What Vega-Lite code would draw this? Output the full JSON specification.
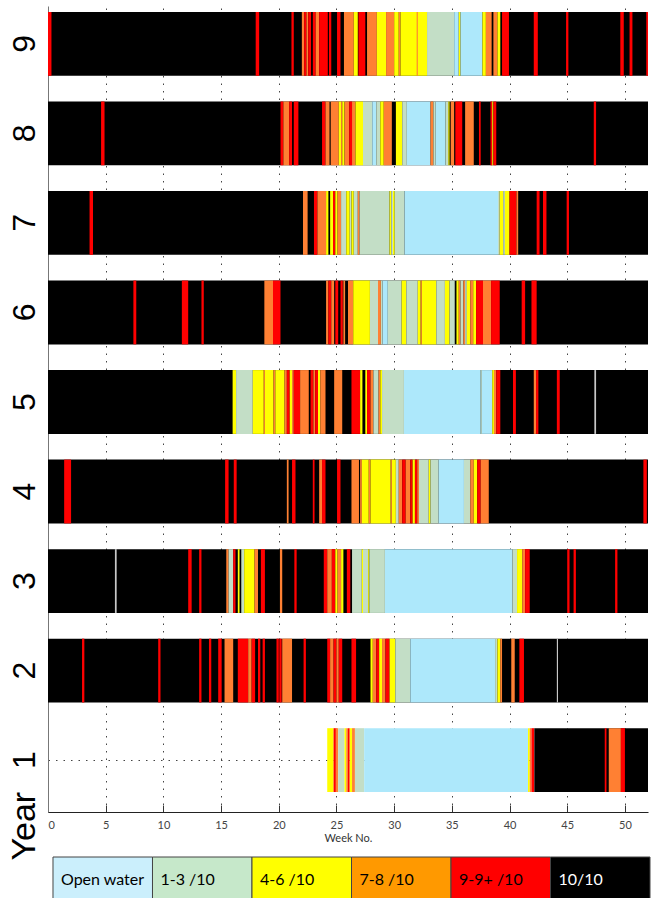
{
 "$schema": "https://vega.github.io/schema/vega-lite/v6.json",
 "padding": {"left": 7, "top": 6, "right": 0, "bottom": 0},
 "background": "white",
 "config": {"view": {"stroke": null}, "font": "Lato"},
 "spacing": 45,
 "bounds": "flush",
 "resolve": {"scale": {"color": "independent", "x": "independent", "y": "independent"}},
 "vconcat": [
  {
   "width": 600,
   "height": 806,
   "data": {"values": [
    {"year":9,"start":0,"end":52,"ice":"10"},
    {"year":9,"start":0,"end":0.3,"ice":"9"},
    {"year":9,"start":18.0,"end":18.3,"ice":"9"},
    {"year":9,"start":21.1,"end":21.3,"ice":"9"},
    {"year":9,"start":22.0,"end":22.2,"ice":"7-8"},
    {"year":9,"start":22.2,"end":22.4,"ice":"9"},
    {"year":9,"start":22.4,"end":22.55,"ice":"7-8"},
    {"year":9,"start":22.55,"end":22.8,"ice":"9"},
    {"year":9,"start":22.95,"end":23.2,"ice":"9"},
    {"year":9,"start":23.2,"end":23.5,"ice":"7-8"},
    {"year":9,"start":23.5,"end":24.25,"ice":"9"},
    {"year":9,"start":24.35,"end":24.55,"ice":"9"},
    {"year":9,"start":25.05,"end":25.35,"ice":"9"},
    {"year":9,"start":25.65,"end":26.5,"ice":"7-8"},
    {"year":9,"start":26.5,"end":26.85,"ice":"4-6"},
    {"year":9,"start":26.9,"end":27.5,"ice":"9"},
    {"year":9,"start":27.65,"end":28.5,"ice":"7-8"},
    {"year":9,"start":28.5,"end":29.3,"ice":"4-6"},
    {"year":9,"start":29.3,"end":30.0,"ice":"7-8"},
    {"year":9,"start":30.0,"end":30.4,"ice":"4-6"},
    {"year":9,"start":30.4,"end":30.55,"ice":"7-8"},
    {"year":9,"start":30.55,"end":32.85,"ice":"4-6"},
    {"year":9,"start":31.95,"end":32.05,"ice":"7-8"},
    {"year":9,"start":32.85,"end":35.2,"ice":"1-3"},
    {"year":9,"start":35.2,"end":35.6,"ice":"OW"},
    {"year":9,"start":35.6,"end":35.75,"ice":"4-6"},
    {"year":9,"start":35.75,"end":37.65,"ice":"OW"},
    {"year":9,"start":37.65,"end":37.95,"ice":"4-6"},
    {"year":9,"start":37.95,"end":38.45,"ice":"7-8"},
    {"year":9,"start":38.6,"end":38.95,"ice":"7-8"},
    {"year":9,"start":38.95,"end":39.2,"ice":"4-6"},
    {"year":9,"start":39.35,"end":39.95,"ice":"9"},
    {"year":9,"start":42.1,"end":42.45,"ice":"9"},
    {"year":9,"start":44.9,"end":45.1,"ice":"9"},
    {"year":9,"start":49.6,"end":49.9,"ice":"9"},
    {"year":9,"start":50.4,"end":50.65,"ice":"9"},
    {"year":9,"start":51.85,"end":52,"ice":"9"},

    {"year":8,"start":0,"end":52,"ice":"10"},
    {"year":8,"start":4.6,"end":4.9,"ice":"9"},
    {"year":8,"start":20.15,"end":20.4,"ice":"9"},
    {"year":8,"start":20.4,"end":20.9,"ice":"7-8"},
    {"year":8,"start":20.9,"end":21.15,"ice":"9"},
    {"year":8,"start":21.3,"end":21.7,"ice":"9"},
    {"year":8,"start":23.75,"end":24.05,"ice":"9"},
    {"year":8,"start":24.05,"end":24.4,"ice":"7-8"},
    {"year":8,"start":24.5,"end":25.2,"ice":"7-8"},
    {"year":8,"start":25.2,"end":25.4,"ice":"4-6"},
    {"year":8,"start":25.4,"end":25.5,"ice":"7-8"},
    {"year":8,"start":25.5,"end":25.7,"ice":"4-6"},
    {"year":8,"start":25.7,"end":26.1,"ice":"7-8"},
    {"year":8,"start":26.1,"end":26.35,"ice":"9"},
    {"year":8,"start":26.35,"end":26.65,"ice":"7-8"},
    {"year":8,"start":26.65,"end":27.3,"ice":"4-6"},
    {"year":8,"start":27.3,"end":28.1,"ice":"1-3"},
    {"year":8,"start":28.1,"end":28.45,"ice":"OW"},
    {"year":8,"start":28.45,"end":28.8,"ice":"1-3"},
    {"year":8,"start":28.8,"end":29.1,"ice":"4-6"},
    {"year":8,"start":29.1,"end":29.8,"ice":"7-8"},
    {"year":8,"start":30.15,"end":30.7,"ice":"4-6"},
    {"year":8,"start":30.7,"end":31.1,"ice":"1-3"},
    {"year":8,"start":31.1,"end":33.15,"ice":"OW"},
    {"year":8,"start":33.15,"end":33.4,"ice":"7-8"},
    {"year":8,"start":33.4,"end":33.6,"ice":"1-3"},
    {"year":8,"start":33.6,"end":34.45,"ice":"OW"},
    {"year":8,"start":34.45,"end":34.7,"ice":"1-3"},
    {"year":8,"start":34.7,"end":34.8,"ice":"4-6"},
    {"year":8,"start":34.9,"end":35.2,"ice":"7-8"},
    {"year":8,"start":35.3,"end":35.9,"ice":"9"},
    {"year":8,"start":36.15,"end":36.9,"ice":"7-8"},
    {"year":8,"start":37.35,"end":37.5,"ice":"9"},
    {"year":8,"start":38.35,"end":38.5,"ice":"9"},
    {"year":8,"start":38.5,"end":38.6,"ice":"4-6"},
    {"year":8,"start":38.6,"end":38.85,"ice":"9"},
    {"year":8,"start":47.3,"end":47.5,"ice":"9"},

    {"year":7,"start":0,"end":52,"ice":"10"},
    {"year":7,"start":3.6,"end":3.9,"ice":"9"},
    {"year":7,"start":22.1,"end":22.5,"ice":"7-8"},
    {"year":7,"start":23.05,"end":23.35,"ice":"9"},
    {"year":7,"start":23.35,"end":24.1,"ice":"7-8"},
    {"year":7,"start":24.1,"end":24.3,"ice":"4-6"},
    {"year":7,"start":24.45,"end":24.7,"ice":"4-6"},
    {"year":7,"start":24.7,"end":24.9,"ice":"9"},
    {"year":7,"start":24.9,"end":25.1,"ice":"4-6"},
    {"year":7,"start":25.1,"end":25.4,"ice":"7-8"},
    {"year":7,"start":25.4,"end":25.85,"ice":"1-3"},
    {"year":7,"start":25.85,"end":26.15,"ice":"4-6"},
    {"year":7,"start":26.15,"end":26.3,"ice":"1-3"},
    {"year":7,"start":26.3,"end":26.5,"ice":"4-6"},
    {"year":7,"start":26.5,"end":26.85,"ice":"1-3"},
    {"year":7,"start":26.85,"end":27.0,"ice":"7-8"},
    {"year":7,"start":27.0,"end":29.6,"ice":"1-3"},
    {"year":7,"start":29.6,"end":29.75,"ice":"4-6"},
    {"year":7,"start":29.75,"end":29.9,"ice":"1-3"},
    {"year":7,"start":29.9,"end":30.05,"ice":"4-6"},
    {"year":7,"start":30.05,"end":30.9,"ice":"1-3"},
    {"year":7,"start":30.9,"end":39.0,"ice":"OW"},
    {"year":7,"start":39.0,"end":39.15,"ice":"1-3"},
    {"year":7,"start":39.15,"end":39.45,"ice":"4-6"},
    {"year":7,"start":39.45,"end":39.6,"ice":"1-3"},
    {"year":7,"start":39.6,"end":40.0,"ice":"4-6"},
    {"year":7,"start":40.0,"end":40.6,"ice":"9"},
    {"year":7,"start":40.6,"end":40.75,"ice":"7-8"},
    {"year":7,"start":42.35,"end":42.6,"ice":"9"},
    {"year":7,"start":42.9,"end":43.2,"ice":"9"},
    {"year":7,"start":44.95,"end":45.15,"ice":"9"},

    {"year":6,"start":0,"end":52,"ice":"10"},
    {"year":6,"start":7.4,"end":7.65,"ice":"9"},
    {"year":6,"start":11.6,"end":12.15,"ice":"9"},
    {"year":6,"start":13.3,"end":13.5,"ice":"9"},
    {"year":6,"start":18.75,"end":19.5,"ice":"7-8"},
    {"year":6,"start":19.5,"end":20.15,"ice":"9"},
    {"year":6,"start":24.1,"end":24.3,"ice":"7-8"},
    {"year":6,"start":24.3,"end":24.55,"ice":"9"},
    {"year":6,"start":24.55,"end":24.8,"ice":"7-8"},
    {"year":6,"start":24.9,"end":25.15,"ice":"9"},
    {"year":6,"start":25.35,"end":25.55,"ice":"9"},
    {"year":6,"start":25.6,"end":25.75,"ice":"7-8"},
    {"year":6,"start":26.0,"end":26.45,"ice":"7-8"},
    {"year":6,"start":26.45,"end":27.9,"ice":"4-6"},
    {"year":6,"start":27.9,"end":28.6,"ice":"1-3"},
    {"year":6,"start":28.6,"end":28.85,"ice":"7-8"},
    {"year":6,"start":28.85,"end":29.0,"ice":"1-3"},
    {"year":6,"start":29.0,"end":29.45,"ice":"OW"},
    {"year":6,"start":29.45,"end":30.65,"ice":"1-3"},
    {"year":6,"start":30.65,"end":31.05,"ice":"4-6"},
    {"year":6,"start":31.05,"end":32.05,"ice":"1-3"},
    {"year":6,"start":32.05,"end":32.3,"ice":"4-6"},
    {"year":6,"start":32.3,"end":32.4,"ice":"7-8"},
    {"year":6,"start":32.4,"end":33.65,"ice":"4-6"},
    {"year":6,"start":33.65,"end":34.4,"ice":"1-3"},
    {"year":6,"start":34.4,"end":34.8,"ice":"4-6"},
    {"year":6,"start":34.8,"end":35.25,"ice":"1-3"},
    {"year":6,"start":35.4,"end":35.6,"ice":"4-6"},
    {"year":6,"start":35.6,"end":35.75,"ice":"7-8"},
    {"year":6,"start":35.75,"end":36.0,"ice":"1-3"},
    {"year":6,"start":36.0,"end":36.15,"ice":"7-8"},
    {"year":6,"start":36.15,"end":36.3,"ice":"1-3"},
    {"year":6,"start":36.3,"end":36.6,"ice":"4-6"},
    {"year":6,"start":36.6,"end":36.85,"ice":"7-8"},
    {"year":6,"start":36.85,"end":37.1,"ice":"4-6"},
    {"year":6,"start":37.1,"end":37.7,"ice":"9"},
    {"year":6,"start":37.7,"end":38.4,"ice":"7-8"},
    {"year":6,"start":38.4,"end":39.15,"ice":"9"},
    {"year":6,"start":41.05,"end":41.35,"ice":"9"},
    {"year":6,"start":41.9,"end":42.35,"ice":"9"},

    {"year":5,"start":0,"end":52,"ice":"10"},
    {"year":5,"start":16.0,"end":16.3,"ice":"4-6"},
    {"year":5,"start":16.3,"end":17.75,"ice":"1-3"},
    {"year":5,"start":17.75,"end":18.7,"ice":"4-6"},
    {"year":5,"start":18.7,"end":18.8,"ice":"7-8"},
    {"year":5,"start":18.8,"end":19.55,"ice":"4-6"},
    {"year":5,"start":19.55,"end":19.7,"ice":"7-8"},
    {"year":5,"start":19.7,"end":20.5,"ice":"4-6"},
    {"year":5,"start":20.5,"end":20.7,"ice":"7-8"},
    {"year":5,"start":20.7,"end":20.95,"ice":"9"},
    {"year":5,"start":20.95,"end":21.15,"ice":"4-6"},
    {"year":5,"start":21.15,"end":21.3,"ice":"7-8"},
    {"year":5,"start":21.3,"end":21.85,"ice":"9"},
    {"year":5,"start":21.85,"end":22.6,"ice":"7-8"},
    {"year":5,"start":22.75,"end":23.0,"ice":"9"},
    {"year":5,"start":23.0,"end":23.15,"ice":"7-8"},
    {"year":5,"start":23.15,"end":23.4,"ice":"9"},
    {"year":5,"start":23.4,"end":23.6,"ice":"4-6"},
    {"year":5,"start":23.6,"end":24.05,"ice":"7-8"},
    {"year":5,"start":24.8,"end":25.5,"ice":"7-8"},
    {"year":5,"start":26.3,"end":27.05,"ice":"9"},
    {"year":5,"start":27.05,"end":27.25,"ice":"4-6"},
    {"year":5,"start":27.5,"end":27.65,"ice":"4-6"},
    {"year":5,"start":27.65,"end":27.95,"ice":"9"},
    {"year":5,"start":27.95,"end":28.2,"ice":"7-8"},
    {"year":5,"start":28.2,"end":28.65,"ice":"1-3"},
    {"year":5,"start":28.65,"end":28.8,"ice":"7-8"},
    {"year":5,"start":28.8,"end":28.95,"ice":"4-6"},
    {"year":5,"start":28.95,"end":30.85,"ice":"1-3"},
    {"year":5,"start":30.85,"end":37.5,"ice":"OW"},
    {"year":5,"start":37.5,"end":37.6,"ice":"1-3"},
    {"year":5,"start":37.6,"end":38.5,"ice":"OW"},
    {"year":5,"start":38.5,"end":38.65,"ice":"4-6"},
    {"year":5,"start":38.65,"end":38.85,"ice":"7-8"},
    {"year":5,"start":38.85,"end":39.2,"ice":"9"},
    {"year":5,"start":40.3,"end":40.55,"ice":"9"},
    {"year":5,"start":42.1,"end":42.3,"ice":"7-8"},
    {"year":5,"start":42.3,"end":42.5,"ice":"9"},
    {"year":5,"start":44.1,"end":44.35,"ice":"9"},
    {"year":5,"start":47.35,"end":47.5,"ice":"X"},

    {"year":4,"start":0,"end":52,"ice":"10"},
    {"year":4,"start":1.4,"end":2.0,"ice":"9"},
    {"year":4,"start":15.35,"end":15.65,"ice":"9"},
    {"year":4,"start":16.1,"end":16.35,"ice":"9"},
    {"year":4,"start":20.7,"end":20.85,"ice":"7-8"},
    {"year":4,"start":21.15,"end":21.45,"ice":"9"},
    {"year":4,"start":22.95,"end":23.1,"ice":"9"},
    {"year":4,"start":23.5,"end":23.75,"ice":"7-8"},
    {"year":4,"start":23.75,"end":24.05,"ice":"9"},
    {"year":4,"start":25.05,"end":25.35,"ice":"9"},
    {"year":4,"start":26.3,"end":26.95,"ice":"7-8"},
    {"year":4,"start":27.05,"end":27.2,"ice":"7-8"},
    {"year":4,"start":27.2,"end":27.8,"ice":"4-6"},
    {"year":4,"start":27.8,"end":27.95,"ice":"7-8"},
    {"year":4,"start":27.95,"end":29.7,"ice":"4-6"},
    {"year":4,"start":29.7,"end":29.8,"ice":"7-8"},
    {"year":4,"start":29.8,"end":30.15,"ice":"4-6"},
    {"year":4,"start":30.15,"end":30.4,"ice":"1-3"},
    {"year":4,"start":30.4,"end":30.7,"ice":"7-8"},
    {"year":4,"start":30.7,"end":31.0,"ice":"9"},
    {"year":4,"start":31.0,"end":31.4,"ice":"7-8"},
    {"year":4,"start":31.4,"end":31.6,"ice":"9"},
    {"year":4,"start":31.6,"end":31.8,"ice":"4-6"},
    {"year":4,"start":31.8,"end":32.0,"ice":"9"},
    {"year":4,"start":32.0,"end":32.15,"ice":"7-8"},
    {"year":4,"start":32.15,"end":33.0,"ice":"1-3"},
    {"year":4,"start":33.0,"end":33.15,"ice":"4-6"},
    {"year":4,"start":33.15,"end":33.85,"ice":"1-3"},
    {"year":4,"start":33.85,"end":36.05,"ice":"OW"},
    {"year":4,"start":36.05,"end":36.6,"ice":"1-3"},
    {"year":4,"start":36.6,"end":36.9,"ice":"7-8"},
    {"year":4,"start":36.9,"end":37.2,"ice":"4-6"},
    {"year":4,"start":37.2,"end":37.5,"ice":"9"},
    {"year":4,"start":37.5,"end":38.2,"ice":"7-8"},
    {"year":4,"start":51.6,"end":51.9,"ice":"9"},

    {"year":3,"start":0,"end":52,"ice":"10"},
    {"year":3,"start":5.8,"end":5.95,"ice":"X"},
    {"year":3,"start":12.15,"end":12.45,"ice":"9"},
    {"year":3,"start":13.1,"end":13.3,"ice":"9"},
    {"year":3,"start":15.45,"end":15.65,"ice":"7-8"},
    {"year":3,"start":15.65,"end":16.05,"ice":"1-3"},
    {"year":3,"start":16.05,"end":16.25,"ice":"9"},
    {"year":3,"start":16.45,"end":16.6,"ice":"4-6"},
    {"year":3,"start":16.75,"end":17.0,"ice":"1-3"},
    {"year":3,"start":17.0,"end":17.9,"ice":"4-6"},
    {"year":3,"start":17.9,"end":18.2,"ice":"7-8"},
    {"year":3,"start":18.45,"end":18.8,"ice":"9"},
    {"year":3,"start":20.1,"end":20.3,"ice":"7-8"},
    {"year":3,"start":21.35,"end":21.55,"ice":"9"},
    {"year":3,"start":23.9,"end":24.2,"ice":"9"},
    {"year":3,"start":24.2,"end":24.6,"ice":"7-8"},
    {"year":3,"start":24.6,"end":24.9,"ice":"9"},
    {"year":3,"start":24.9,"end":25.1,"ice":"4-6"},
    {"year":3,"start":25.1,"end":25.4,"ice":"7-8"},
    {"year":3,"start":25.4,"end":25.6,"ice":"4-6"},
    {"year":3,"start":25.9,"end":26.2,"ice":"9"},
    {"year":3,"start":26.35,"end":27.2,"ice":"1-3"},
    {"year":3,"start":27.2,"end":27.3,"ice":"4-6"},
    {"year":3,"start":27.3,"end":27.75,"ice":"1-3"},
    {"year":3,"start":27.75,"end":27.85,"ice":"4-6"},
    {"year":3,"start":27.85,"end":29.2,"ice":"1-3"},
    {"year":3,"start":29.2,"end":40.25,"ice":"OW"},
    {"year":3,"start":40.25,"end":40.65,"ice":"1-3"},
    {"year":3,"start":40.65,"end":41.1,"ice":"4-6"},
    {"year":3,"start":41.1,"end":41.35,"ice":"7-8"},
    {"year":3,"start":41.35,"end":41.75,"ice":"9"},
    {"year":3,"start":45.0,"end":45.2,"ice":"9"},
    {"year":3,"start":45.55,"end":45.75,"ice":"9"},
    {"year":3,"start":49.15,"end":49.35,"ice":"9"},

    {"year":2,"start":0,"end":52,"ice":"10"},
    {"year":2,"start":2.95,"end":3.15,"ice":"9"},
    {"year":2,"start":9.55,"end":9.75,"ice":"9"},
    {"year":2,"start":13.1,"end":13.3,"ice":"9"},
    {"year":2,"start":13.95,"end":14.15,"ice":"9"},
    {"year":2,"start":14.75,"end":15.05,"ice":"9"},
    {"year":2,"start":15.3,"end":16.05,"ice":"7-8"},
    {"year":2,"start":16.45,"end":17.35,"ice":"9"},
    {"year":2,"start":17.35,"end":17.65,"ice":"7-8"},
    {"year":2,"start":17.65,"end":17.95,"ice":"9"},
    {"year":2,"start":18.2,"end":18.4,"ice":"9"},
    {"year":2,"start":18.6,"end":18.8,"ice":"9"},
    {"year":2,"start":19.8,"end":20.0,"ice":"9"},
    {"year":2,"start":20.05,"end":20.25,"ice":"9"},
    {"year":2,"start":20.3,"end":21.15,"ice":"7-8"},
    {"year":2,"start":22.15,"end":22.35,"ice":"9"},
    {"year":2,"start":24.2,"end":24.45,"ice":"9"},
    {"year":2,"start":24.45,"end":24.75,"ice":"7-8"},
    {"year":2,"start":24.75,"end":25.0,"ice":"9"},
    {"year":2,"start":25.0,"end":25.2,"ice":"7-8"},
    {"year":2,"start":25.2,"end":25.5,"ice":"9"},
    {"year":2,"start":26.3,"end":26.7,"ice":"9"},
    {"year":2,"start":27.95,"end":28.15,"ice":"4-6"},
    {"year":2,"start":28.15,"end":28.45,"ice":"7-8"},
    {"year":2,"start":28.45,"end":28.7,"ice":"9"},
    {"year":2,"start":28.7,"end":28.95,"ice":"4-6"},
    {"year":2,"start":28.95,"end":29.25,"ice":"7-8"},
    {"year":2,"start":29.25,"end":29.6,"ice":"9"},
    {"year":2,"start":29.6,"end":30.1,"ice":"4-6"},
    {"year":2,"start":30.1,"end":31.4,"ice":"1-3"},
    {"year":2,"start":31.4,"end":38.75,"ice":"OW"},
    {"year":2,"start":38.75,"end":38.95,"ice":"1-3"},
    {"year":2,"start":38.95,"end":39.2,"ice":"4-6"},
    {"year":2,"start":39.2,"end":39.35,"ice":"7-8"},
    {"year":2,"start":40.15,"end":40.45,"ice":"7-8"},
    {"year":2,"start":40.85,"end":41.25,"ice":"9"},
    {"year":2,"start":44.1,"end":44.2,"ice":"X"},

    {"year":1,"start":24.2,"end":24.75,"ice":"4-6"},
    {"year":1,"start":24.75,"end":24.95,"ice":"9"},
    {"year":1,"start":24.95,"end":25.15,"ice":"7-8"},
    {"year":1,"start":25.15,"end":25.7,"ice":"1-3"},
    {"year":1,"start":25.7,"end":25.85,"ice":"4-6"},
    {"year":1,"start":25.85,"end":26.0,"ice":"7-8"},
    {"year":1,"start":26.0,"end":26.15,"ice":"9"},
    {"year":1,"start":26.15,"end":26.35,"ice":"4-6"},
    {"year":1,"start":26.35,"end":26.6,"ice":"7-8"},
    {"year":1,"start":26.6,"end":27.4,"ice":"1-3"},
    {"year":1,"start":27.4,"end":41.6,"ice":"OW"},
    {"year":1,"start":41.6,"end":41.75,"ice":"4-6"},
    {"year":1,"start":41.75,"end":41.9,"ice":"7-8"},
    {"year":1,"start":41.9,"end":42.15,"ice":"9"},
    {"year":1,"start":42.15,"end":52,"ice":"10"},
    {"year":1,"start":48.25,"end":48.4,"ice":"9"},
    {"year":1,"start":48.6,"end":49.65,"ice":"7-8"},
    {"year":1,"start":49.65,"end":50.0,"ice":"9"}
   ]},
   "mark": {"type": "rect"},
   "encoding": {
    "x": {"field": "start", "type": "quantitative",
          "scale": {"domain": [0, 52], "nice": false, "zero": false},
          "axis": {"values": [0,5,10,15,20,25,30,35,40,45,50], "title": "Week No.", "zindex": 0,
                   "titleFont": "Lato", "titleFontSize": 11, "titleFontWeight": "normal", "titleColor": "#333",
                   "titleY": 26, "titleBaseline": "middle",
                   "labelFont": "Lato", "labelFontSize": 11, "labelColor": "#444", "labelPadding": 14,
                   "tickSize": -7, "tickColor": "#333",
                   "grid": true, "gridDash": [1.5, 6], "gridColor": "#444",
                   "domainColor": "#222"}},
    "x2": {"field": "end"},
    "y": {"field": "year", "type": "ordinal", "sort": "descending",
          "scale": {"paddingInner": 0.287, "paddingOuter": 0.145, "align": 0.23},
          "axis": {"title": "Year", "zindex": 0, "titleAngle": -90, "titleFont": "Liberation Sans", "titleFontSize": 34,
                   "titleFontWeight": "normal", "titleColor": "black", "titleAlign": "left",
                   "titleBaseline": "alphabetic", "titleX": -14, "titleY": 854,
                   "labelAngle": -90, "labelAlign": "center", "labelBaseline": "alphabetic",
                   "labelFont": "Liberation Sans", "labelFontSize": 32, "labelColor": "black",
                   "labelPadding": 14, "ticks": false, "tickSize": 0,
                   "grid": true, "bandPosition": 0.5, "gridDash": [1.5, 6], "gridColor": "#444",
                   "domainColor": "#777"}},
    "color": {"field": "ice", "type": "nominal",
              "scale": {"domain": ["OW","1-3","4-6","7-8","9","10","X"],
                        "range": ["#ADE8FB","#C3DEC6","#FFFF00","#FF8033","#FF0000","#000000","#C8C8C8"]},
              "legend": null}
   }
  },
  {
   "width": 607,
   "height": 46,
   "data": {"values": [
    {"label": "Open water"},
    {"label": "1-3 /10"},
    {"label": "4-6 /10"},
    {"label": "7-8 /10"},
    {"label": "9-9+ /10"},
    {"label": "10/10"}
   ]},
   "layer": [
    {
     "mark": {"type": "rect", "stroke": "#444", "strokeWidth": 1},
     "encoding": {
      "x": {"field": "label", "type": "nominal", "sort": null,
            "scale": {"type": "band", "paddingInner": 0, "paddingOuter": 0.0502},
            "axis": null},
      "color": {"field": "label", "type": "nominal",
                "scale": {"domain": ["Open water","1-3 /10","4-6 /10","7-8 /10","9-9+ /10","10/10"],
                          "range": ["#CBEFFC","#C6E8CA","#FFFF00","#FF9900","#FF0000","#000000"]},
                "legend": null}
     }
    },
    {
     "mark": {"type": "text", "align": "left", "dx": 8, "baseline": "middle", "fontSize": 16, "font": "Lato"},
     "encoding": {
      "x": {"field": "label", "type": "nominal", "sort": null, "bandPosition": 0, "axis": null},
      "text": {"field": "label"},
      "color": {"condition": {"test": "datum.label === '10/10'", "value": "white"}, "value": "black"}
     }
    }
   ]
  }
 ]
}
